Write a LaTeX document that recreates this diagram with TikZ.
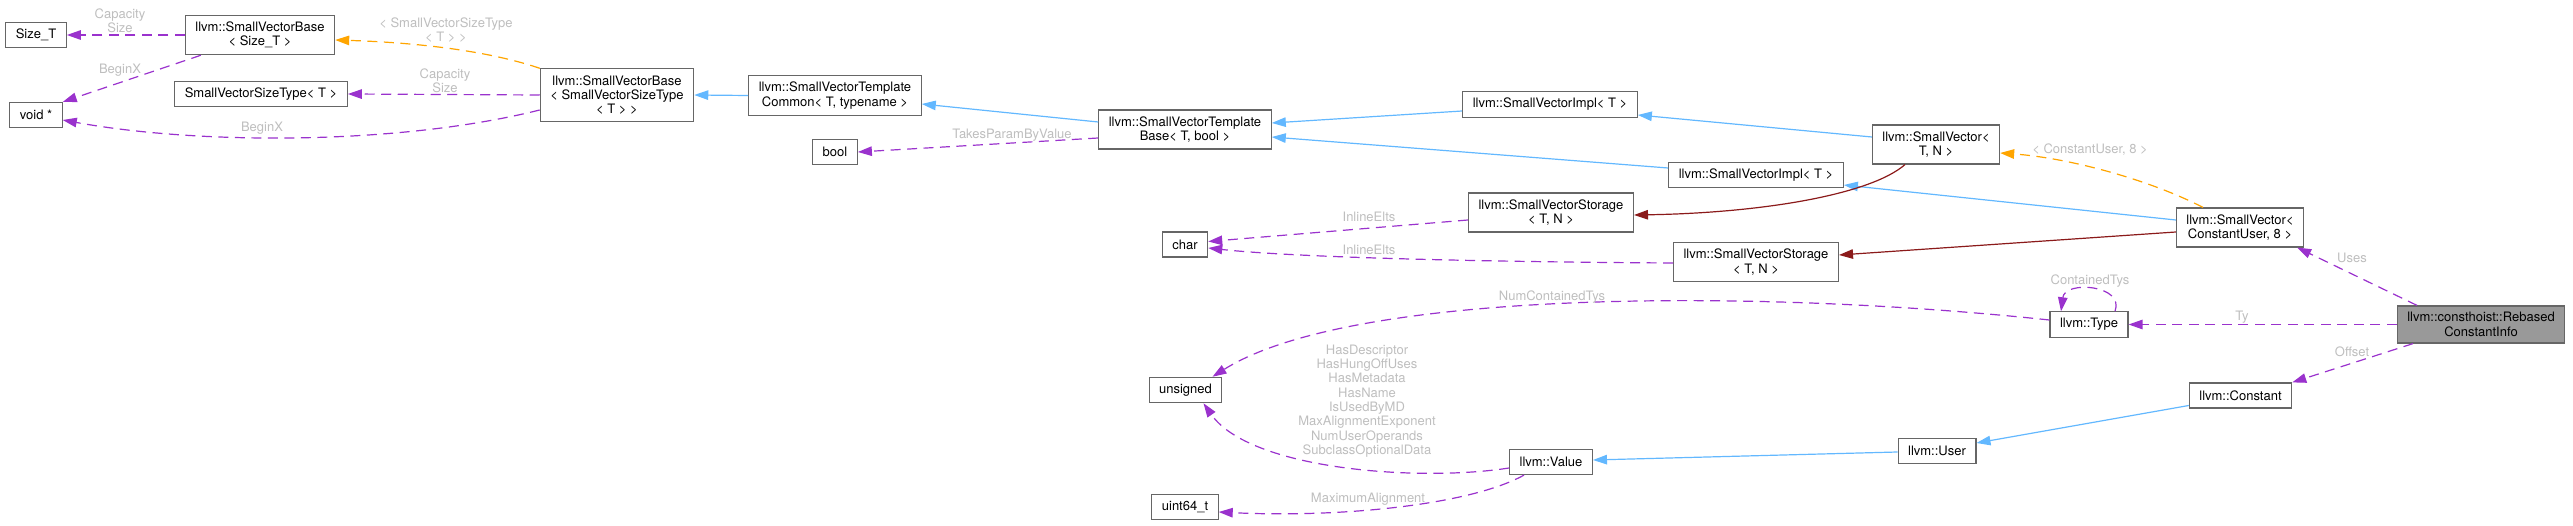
\documentclass[tikz,border=0pt]{standalone}
\usepackage{fontspec}
\setmainfont{TeX Gyre Heros}
\usetikzlibrary{arrows.meta,calc}

\definecolor{memberedge}{HTML}{9A32CD}
\definecolor{inheritedge}{HTML}{63B8FF}
\definecolor{storageedge}{HTML}{8B1A1A}
\definecolor{templedge}{HTML}{FFA500}
\definecolor{boxline}{HTML}{666666}
\definecolor{labelgray}{HTML}{BEBEBE}
\definecolor{mainfill}{HTML}{999999}

\begin{document}
\begin{tikzpicture}[x=1pt, y=-1pt,
    cls/.style={draw=boxline, line width=1.2pt, fill=white, align=center, font=\fontsize{13}{14.3}\selectfont, inner xsep=10pt, inner ysep=6.5pt, minimum height=25pt},
    mainbox/.style={cls, fill=mainfill},
    elabel/.style={text=labelgray, align=center, font=\fontsize{13}{14.3}\selectfont, inner sep=0pt},
    member/.style={-{Triangle[length=14pt,width=9.5pt]}, line width=1.2pt, dash pattern=on 10pt off 6.5pt, draw=memberedge},
    inherit/.style={-{Triangle[length=14pt,width=9.5pt]}, line width=1.2pt, draw=inheritedge},
    storage/.style={-{Triangle[length=14pt,width=9.5pt]}, line width=1.2pt, draw=storageedge},
    templ/.style={-{Triangle[length=14pt,width=9.5pt]}, line width=1.2pt, dash pattern=on 10pt off 6.5pt, draw=templedge},
]
\useasboundingbox (0,0) rectangle (2573,526);

% left column
\node[cls] (sizet) at (36,35) {Size\_T};
\node[cls] (voidp) at (36,115) {void *};
\node[cls] (svbaseS) at (260,35) {llvm::SmallVectorBase\\< Size\_T >};
\node[cls] (svst) at (261,94) {SmallVectorSizeType< T >};
\node[cls] (svbaseT) at (617,95) {llvm::SmallVectorBase\\< SmallVectorSizeType\\< T > >};

% template chain
\node[cls] (stc) at (835,95.5) {llvm::SmallVectorTemplate\\Common< T, typename >};
\node[cls] (boolb) at (835,152) {bool};
\node[cls] (stb) at (1185,129.5) {llvm::SmallVectorTemplate\\Base< T, bool >};

% primitive types
\node[cls] (charb) at (1185,244.5) {char};
\node[cls] (unsig) at (1185.5,390) {unsigned};
\node[cls] (uint) at (1185,507) {uint64\_t};

% impl / storage
\node[cls] (implA) at (1550,104.5) {llvm::SmallVectorImpl< T >};
\node[cls] (storA) at (1551,212.5) {llvm::SmallVectorStorage\\< T, N >};
\node[cls] (implB) at (1756,175) {llvm::SmallVectorImpl< T >};
\node[cls] (storB) at (1756,262) {llvm::SmallVectorStorage\\< T, N >};
\node[cls] (value) at (1551,462) {llvm::Value};

% right part
\node[cls] (svTN) at (1936,144.5) {llvm::SmallVector<\\T, N >};
\node[cls] (user) at (1937,451) {llvm::User};
\node[cls] (typeb) at (2089,324.5) {llvm::Type};
\node[cls] (svCU) at (2240,227.5) {llvm::SmallVector<\\ConstantUser, 8 >};
\node[cls] (constant) at (2240.5,395.5) {llvm::Constant};
\node[mainbox] (rebased) at (2481,324.5) {llvm::consthoist::Rebased\\ConstantInfo};

% member fields
\draw[member] (svbaseS.west) -- (sizet.east);
\draw[member] ($(svbaseS.south west)+(16,0)$) -- (voidp.north east);
\draw[member] (svbaseT.west) -- (svst.east);
\draw[member] ($(svbaseT.west)+(0,15)$) .. controls (400,145) and (200,145) .. ($(voidp.east)+(0,5)$);
\draw[member] ($(stb.west)+(0,8.5)$) -- (boolb.east);
\draw[member] ($(storA.west)+(0,7.5)$) -- ($(charb.east)+(0,-3)$);
\draw[member] ($(storB.west)+(0,1)$) .. controls (1500,262) and (1300,258) .. ($(charb.east)+(0,3.5)$);
\draw[member] ($(typeb.west)+(0,-4.5)$) .. controls (1750,288) and (1350,290) .. ($(unsig.north east)+(-10,0)$);
\draw[member] ($(typeb.north)+(26,0)$) .. controls (2125,285) and (2065,280) .. ($(typeb.north)+(-28,0)$);
\draw[member] (rebased.west) -- (typeb.east);
\draw[member] ($(rebased.north)+(-64,0)$) -- ($(svCU.south east)+(-7,0)$);
\draw[member] ($(rebased.south)+(-68,0)$) -- (constant.north east);
\draw[member] ($(value.west)+(0,6)$) .. controls (1420,482) and (1250,470) .. ($(unsig.south east)+(-19,0)$);
\draw[member] ($(value.south west)+(15,0)$) .. controls (1470,505) and (1340,518) .. ($(uint.east)+(0,5)$);

% inheritance
\draw[inherit] (stc.west) -- (svbaseT.east);
\draw[inherit] ($(stb.west)+(0,-7.5)$) -- ($(stc.east)+(0,8.5)$);
\draw[inherit] ($(implA.west)+(0,6.5)$) -- ($(stb.east)+(0,-6.5)$);
\draw[inherit] ($(implB.west)+(0,-7)$) -- ($(stb.east)+(0,7.5)$);
\draw[inherit] ($(svTN.west)+(0,-7.5)$) -- ($(implA.east)+(0,10.5)$);
\draw[inherit] ($(svCU.west)+(0,-7.5)$) -- ($(implB.east)+(0,10)$);
\draw[inherit] ($(user.west)+(0,1)$) -- ($(value.east)+(0,-2)$);
\draw[inherit] ($(constant.west)+(0,10)$) -- ($(user.east)+(0,-8)$);

% storage bases
\draw[storage] ($(svTN.south)+(-31,0)$) .. controls (1870,195) and (1760,213) .. ($(storA.east)+(0,2.5)$);
\draw[storage] ($(svCU.west)+(0,4.5)$) -- ($(storB.east)+(0,-7)$);

% template instances
\draw[templ] (svbaseT.north west) .. controls (480,48) and (400,42) .. ($(svbaseS.east)+(0,5)$);
\draw[templ] ($(svCU.north)+(-37,0)$) .. controls (2150,180) and (2070,158) .. ($(svTN.east)+(0,8.5)$);

% edge labels
\node[elabel] (lCapA) at (120,21) {Capacity\\Size};
\node[elabel] (lBeginA) at (120,70) {BeginX};
\node[elabel] (lTmplA) at (446,30) {< SmallVectorSizeType\\< T > >};
\node[elabel] (lCapB) at (445,80.5) {Capacity\\Size};
\node[elabel] (lBeginB) at (262,128) {BeginX};
\node[elabel] (lTakes) at (1012,135) {TakesParamByValue};
\node[elabel] (lInlA) at (1369,217) {InlineElts};
\node[elabel] (lInlB) at (1369,250) {InlineElts};
\node[elabel] (lNumCT) at (1552,297) {NumContainedTys};
\node[elabel] (lCT) at (2090,281) {ContainedTys};
\node[elabel] (lTmplB) at (2090,150) {< ConstantUser, 8 >};
\node[elabel] (lUses) at (2352,258) {Uses};
\node[elabel] (lTy) at (2242,317) {Ty};
\node[elabel] (lOffset) at (2352,352) {Offset};
\node[elabel] (lFlags) at (1367,401) {HasDescriptor\\HasHungOffUses\\HasMetadata\\HasName\\IsUsedByMD\\MaxAlignmentExponent\\NumUserOperands\\SubclassOptionalData};
\node[elabel] (lMaxAl) at (1368,499) {MaximumAlignment};
\end{tikzpicture}
\end{document}
